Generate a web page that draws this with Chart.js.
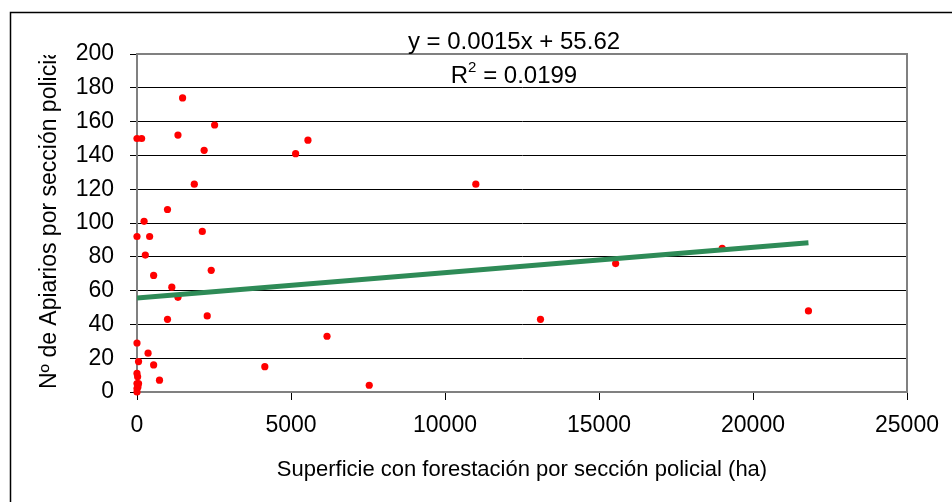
<!DOCTYPE html>
<html>
<head>
<meta charset="utf-8">
<script src="https://cdn.jsdelivr.net/npm/chart.js@4.4.1/dist/chart.umd.min.js"></script>
<style>
  html, body { margin: 0; padding: 0; background: #fff; }
  #wrap { width: 952px; height: 502px; }
</style>
</head>
<body>
<div id="wrap"><canvas id="chart" width="952" height="502"></canvas></div>
<script>
// datos
const forestHa = [0, 150, 1480, 1330, 2520, 2180, 5150, 5550, 1860, 990, 230, 2120, 0, 410, 270,
  2410, 540, 1130, 1330, 990, 2280, 0, 360, 50, 540, 4150, 730, 0, 20, 50, 0, 0, 0, 30,
  7540, 6170, 11000, 13100, 15540, 19000, 21800];
const apiarios = [150, 150, 174, 152, 158, 143, 141, 149, 123, 108, 101, 95, 92, 92, 81,
  72, 69, 62, 56, 43, 45, 29, 23, 18, 16, 15, 7, 11, 9, 5, 5, 2, 0, 3,
  4, 33, 123, 43, 76, 85, 48];
const xTicks = [0, 5000, 10000, 15000, 20000, 25000];
const yTicks = [0, 20, 40, 60, 80, 100, 120, 140, 160, 180, 200];

const trendSlope = 0.0015;
const trendIntercept = 55.62;
const eqText = 'y = 0.0015x + 55.62';
const r2Text = '0.0199';
const xTitle = 'Superficie con forestación por sección policial (ha)';
const yTitle = 'Nº de Apiarios por sección policial';

const FONT = "'Liberation Sans', Arial, sans-serif";

const points = forestHa.map((x, i) => ({ x: x, y: apiarios[i] }));
const xMin = Math.min(...forestHa), xMax = Math.max(...forestHa);
const trend = [xMin, xMax].map(x => ({ x: x, y: trendSlope * x + trendIntercept }));

const decor = {
  id: 'decor',
  beforeDraw(chart) {
    const ctx = chart.ctx;
    ctx.save();
    ctx.fillStyle = '#fff';
    ctx.fillRect(0, 0, chart.width, chart.height);
    ctx.restore();
  },
  afterDraw(chart) {
    const ctx = chart.ctx;
    const a = chart.chartArea;
    ctx.save();

    // marco del area de trazado (arriba y derecha)
    ctx.strokeStyle = '#808080';
    ctx.lineWidth = 2;
    ctx.beginPath();
    ctx.moveTo(a.left, a.top);
    ctx.lineTo(a.right, a.top);
    ctx.lineTo(a.right, a.bottom);
    ctx.stroke();

    // borde exterior del grafico
    ctx.strokeStyle = '#000';
    ctx.lineWidth = 1.5;
    ctx.strokeRect(10.5, 12.5, 1000, 600);

    // titulo eje x
    ctx.fillStyle = '#000';
    ctx.font = '22px ' + FONT;
    ctx.textAlign = 'center';
    ctx.textBaseline = 'alphabetic';
    ctx.fillText(xTitle, (a.left + a.right) / 2, 476);

    // titulo eje y (recortado arriba)
    ctx.save();
    ctx.beginPath();
    ctx.rect(0, 55, 137, 502);
    ctx.clip();
    ctx.translate(56, 389);
    ctx.rotate(-Math.PI / 2);
    ctx.font = '23px ' + FONT;
    ctx.textAlign = 'left';
    ctx.fillText(yTitle, 0, 0);
    ctx.restore();

    // ecuacion y R2
    const cx = 514;
    const big = '24px ' + FONT, small = '15px ' + FONT;
    ctx.font = big;
    ctx.textAlign = 'center';
    ctx.fillText(eqText, cx, 49);

    const wR = ctx.measureText('R').width;
    const wRest = ctx.measureText(' = ' + r2Text).width;
    ctx.font = small;
    const w2 = ctx.measureText('2').width;
    const x0 = cx - (wR + w2 + wRest) / 2;
    ctx.textAlign = 'left';
    ctx.font = big;
    ctx.fillText('R', x0, 83);
    ctx.font = small;
    ctx.fillText('2', x0 + wR, 72);
    ctx.font = big;
    ctx.fillText(' = ' + r2Text, x0 + wR + w2, 83);

    ctx.restore();
  }
};

new Chart(document.getElementById('chart'), {
  type: 'scatter',
  data: {
    datasets: [
      {
        type: 'line',
        data: trend,
        borderColor: '#2e8b57',
        borderWidth: 5,
        pointRadius: 0,
        fill: false,
        order: 0
      },
      {
        data: points,
        backgroundColor: '#ff0000',
        borderWidth: 0,
        pointRadius: 3.6,
        clip: false,
        order: 1
      }
    ]
  },
  options: {
    responsive: false,
    animation: false,
    events: [],
    layout: { padding: { left: 0, right: 45, top: 54, bottom: 0 } },
    plugins: {
      legend: { display: false },
      tooltip: { enabled: false }
    },
    scales: {
      x: {
        type: 'linear',
        min: 0,
        max: 25000,
        afterBuildTicks: s => { s.ticks = xTicks.map(v => ({ value: v })); },
        afterFit: s => { s.height = 110; },
        border: { color: '#808080', width: 2 },
        grid: { drawOnChartArea: false, drawTicks: true, tickLength: 8, color: '#000', lineWidth: 1 },
        ticks: {
          color: '#000',
          padding: 12,
          maxRotation: 0,
          callback: v => String(v),
          font: { family: FONT, size: 23 }
        }
      },
      y: {
        type: 'linear',
        min: 0,
        max: 200,
        afterBuildTicks: s => { s.ticks = yTicks.map(v => ({ value: v })); },
        afterFit: s => { s.width = 137; },
        border: { color: '#808080', width: 2 },
        grid: { color: '#000', lineWidth: 1, tickLength: 7 },
        ticks: {
          color: '#000',
          padding: 16,
          callback: v => String(v),
          font: { family: FONT, size: 23 }
        }
      }
    }
  },
  plugins: [decor]
});
</script>
</body>
</html>
